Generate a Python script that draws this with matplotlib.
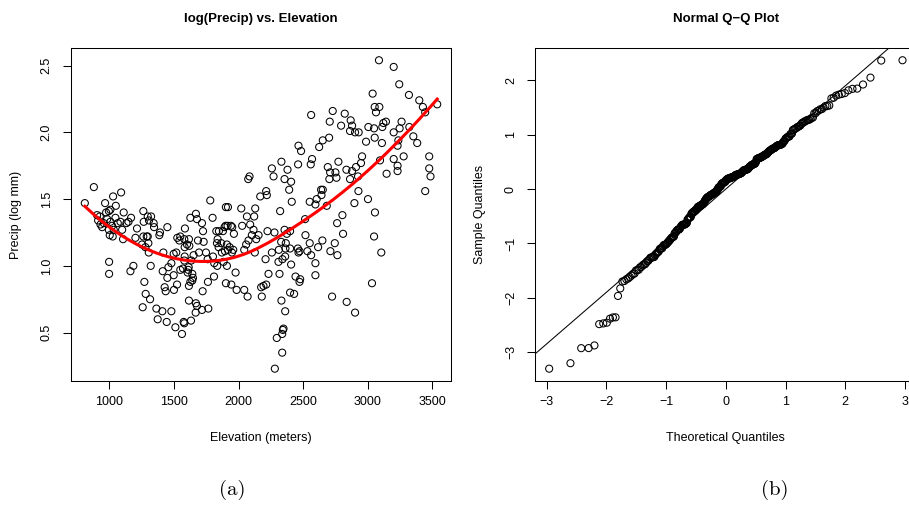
from statistics import NormalDist
import matplotlib
matplotlib.use("Agg")
import matplotlib.pyplot as plt
import numpy as np

plt.rcParams['font.family'] = ['Liberation Sans', 'DejaVu Sans']

# station elevation (m) and log10 precipitation
elevation = [
    809, 879, 966, 1028, 1090, 1049, 904, 925, 912, 930, 943, 956, 974, 995, 1007,
    982, 1007, 1020, 995, 1033, 1002, 1025, 1046, 1064, 1085, 1098, 1105, 1110, 1131, 1147,
    1167, 997, 997, 1162, 1185, 1262, 1265, 1296, 1322, 1342, 1345, 1306, 1262, 1288, 1296,
    1252, 1301, 1304, 1278, 1391, 1386, 1448, 1319, 1270, 1280, 1314, 1257, 1363, 1409, 1479,
    1373, 1443, 1510, 1574, 1579, 1631, 1561, 1417, 1412, 1456, 1448, 1497, 1523, 1499, 1435,
    1427, 1479, 1497, 1517, 1525, 1548, 1541, 1579, 1584, 1615, 1600, 1618, 1582, 1548, 1569,
    1579, 1613, 1610, 1605, 1641, 1646, 1641, 1626, 1615, 1633, 1651, 1693, 1685, 1729, 1747,
    1760, 1626, 1669, 1677, 1716, 1724, 1780, 1798, 1615, 1669, 1677, 1667, 1716, 1765, 1721,
    1762, 1809, 1801, 1811, 1834, 1832, 1827, 1847, 1837, 1865, 1878, 1899, 1891, 1914, 1940,
    1950, 1963, 1845, 1870, 1894, 1909, 1917, 1930, 1948, 1958, 1883, 1909, 1901, 1917, 1901,
    1943, 1976, 1984, 1213, 1201, 1582,
    3086, 3200, 3243, 3037, 3318, 3398, 3426, 3444, 3537, 3053, 3089, 3063, 2561, 2728, 2821,
    2705, 2793, 2867, 2878, 2862, 2901, 2929, 3004, 3048, 3120, 3140, 3112, 3261, 3200, 3246,
    3321, 3053, 2986, 3109, 3236, 3352, 3382, 3230, 2463, 2483, 2623, 2651, 2700, 2568, 2558,
    2460, 2331, 2257, 2270, 2378, 2355, 2406, 2084, 2074, 2690, 2708, 2702, 2757, 2749, 2772,
    2834, 2878, 2908, 2955, 2947, 2862, 2924, 3094, 3200, 3277, 3230, 3230, 3145, 3475, 3475,
    3485, 3444, 2391, 2213, 2218, 2167, 2411, 2638, 2651, 2641, 2604, 2550, 2594, 2682, 2927,
    2896, 3001, 3055, 2803, 2762, 2808, 2514, 2321, 2128, 2120, 2064, 2020, 2089, 2027, 2115,
    2102, 2154, 2076, 2058, 2043, 2125, 2136, 2223, 2277, 2355, 2373, 2398, 2329, 2365, 2398,
    2362, 2311, 2257, 2208, 2308, 2339, 2360, 2458, 2471, 2463, 2517, 2550, 2532, 2561, 2594,
    2615, 2648, 2710, 2744, 2764, 3048, 3104, 2406, 2231, 2316, 2440, 2476, 2471, 2594, 2192,
    2174, 2213, 2043, 2069, 2179, 2398, 2429, 2331, 2360, 2723, 2836, 2901, 3032, 2347, 2342,
    2337, 2295, 2337, 2280,
]
log_precip = [
    1.47, 1.59, 1.47, 1.52, 1.55, 1.45, 1.38, 1.37, 1.34, 1.31, 1.29, 1.32, 1.40, 1.41, 1.42,
    1.35, 1.33, 1.30, 1.27, 1.27, 1.23, 1.22, 1.36, 1.32, 1.33, 1.27, 1.20, 1.40, 1.32, 1.33,
    1.36, 1.03, 0.94, 0.96, 1.00, 1.41, 1.33, 1.37, 1.37, 1.32, 1.29, 1.34, 1.22, 1.22, 1.22,
    1.16, 1.17, 1.10, 1.14, 1.25, 1.23, 1.29, 1.00, 0.88, 0.79, 0.75, 0.69, 0.68, 0.66, 0.66,
    0.60, 0.58, 0.54, 0.58, 0.57, 0.59, 0.49, 1.10, 0.96, 0.99, 0.91, 0.93, 0.86, 0.82, 0.81,
    0.84, 1.02, 1.09, 1.10, 1.21, 1.22, 1.19, 1.20, 1.28, 1.20, 1.16, 1.15, 1.14, 0.97, 0.98,
    1.04, 0.99, 0.97, 0.95, 0.94, 0.91, 0.89, 0.88, 0.85, 1.04, 1.08, 1.10, 1.19, 1.18, 1.10,
    1.05, 1.36, 1.39, 1.35, 1.32, 1.26, 1.49, 1.36, 0.74, 0.72, 0.70, 0.65, 0.67, 0.68, 0.81,
    0.88, 0.92, 1.07, 1.02, 1.00, 1.17, 1.26, 1.26, 1.20, 1.17, 1.26, 1.30, 1.29, 1.30, 1.30,
    1.29, 1.24, 1.14, 1.10, 1.11, 1.16, 1.12, 1.14, 1.10, 1.12, 1.03, 1.00, 1.44, 1.44, 0.87,
    0.86, 0.95, 0.82, 1.28, 1.21, 1.07,
    2.54, 2.49, 2.36, 2.29, 2.28, 2.24, 2.19, 2.15, 2.21, 2.19, 2.19, 2.15, 2.13, 2.16, 2.14,
    2.08, 2.05, 2.09, 2.05, 2.01, 2.00, 2.00, 2.04, 2.03, 2.07, 2.08, 2.04, 2.08, 2.00, 2.03,
    2.04, 1.96, 1.93, 1.92, 1.94, 1.97, 1.92, 1.90, 1.90, 1.86, 1.89, 1.94, 1.96, 1.80, 1.76,
    1.76, 1.78, 1.73, 1.67, 1.72, 1.65, 1.63, 1.67, 1.65, 1.74, 1.70, 1.65, 1.66, 1.70, 1.78,
    1.72, 1.71, 1.74, 1.82, 1.77, 1.65, 1.67, 1.79, 1.80, 1.82, 1.75, 1.71, 1.69, 1.82, 1.73,
    1.67, 1.56, 1.57, 1.56, 1.53, 1.52, 1.48, 1.57, 1.57, 1.53, 1.50, 1.48, 1.46, 1.45, 1.56,
    1.47, 1.50, 1.40, 1.38, 1.32, 1.24, 1.35, 1.41, 1.43, 1.37, 1.37, 1.43, 1.31, 1.30, 1.27,
    1.23, 1.23, 1.19, 1.16, 1.12, 1.10, 1.20, 1.26, 1.25, 1.27, 1.24, 1.26, 1.18, 1.17, 1.13,
    1.13, 1.12, 1.10, 1.05, 1.03, 1.05, 1.07, 1.13, 1.11, 1.10, 1.23, 1.17, 1.11, 1.08, 1.02,
    1.14, 1.19, 1.11, 1.17, 1.08, 1.22, 1.10, 1.01, 0.94, 0.94, 0.92, 0.90, 0.88, 0.93, 0.85,
    0.84, 0.86, 0.82, 0.77, 0.77, 0.80, 0.79, 0.74, 0.66, 0.77, 0.73, 0.65, 0.87, 0.53, 0.52,
    0.49, 0.46, 0.35, 0.23,
]

x_ticks_a = [1000, 1500, 2000, 2500, 3000, 3500]
y_ticks_a = [0.5, 1.0, 1.5, 2.0, 2.5]
x_ticks_b = [-3, -2, -1, 0, 1, 2, 3]
y_ticks_b = [-3, -2, -1, 0, 1, 2]


def loess(x, y, x_eval, span=0.75):
    # local quadratic fit with tricube weights
    n = len(x)
    q = min(int(np.floor(span * n)), n)
    xk = x / 1000.0
    out = np.empty(len(x_eval))
    for i, x0 in enumerate(x_eval / 1000.0):
        d = np.abs(xk - x0)
        h = np.sort(d)[q - 1] * max(span, 1.0) * 1.0001
        u = np.clip(d / h, 0, 1)
        w = (1 - u ** 3) ** 3
        X = np.column_stack([np.ones(n), xk - x0, (xk - x0) ** 2])
        sw = np.sqrt(w)
        beta = np.linalg.lstsq(X * sw[:, None], y * sw, rcond=None)[0]
        out[i] = beta[0]
    return out


x = np.array(elevation, dtype=float)
y = np.array(log_precip, dtype=float)

xs = np.sort(x)
ys = loess(x, y, xs, span=1.0)

# standardised residuals of a cubic trend for the Q-Q plot
coef = np.polyfit(x, y, 3)
resid = y - np.polyval(coef, x)
std_resid = np.sort(resid / resid.std(ddof=4))
n = len(std_resid)
nd = NormalDist()
probs = (np.arange(1, n + 1) - 0.5) / n
theo = np.array([nd.inv_cdf(p) for p in probs])

# qqline through the quartiles
q1, q3 = np.percentile(std_resid, [25, 75])
z1, z3 = nd.inv_cdf(0.25), nd.inv_cdf(0.75)
slope = (q3 - q1) / (z3 - z1)
intercept = q1 - slope * z1


def r_limits(v):
    lo, hi = np.min(v), np.max(v)
    pad = 0.04 * (hi - lo)
    return lo - pad, hi + pad


def r_style(ax):
    for s in ax.spines.values():
        s.set_linewidth(0.75)
    ax.tick_params(axis='both', direction='out', length=6, width=0.75, labelsize=9)
    ax.tick_params(axis='x', pad=4.5)
    ax.tick_params(axis='y', pad=7, labelrotation=90)
    for lbl in ax.get_yticklabels():
        lbl.set_va('center')


fig = plt.figure(figsize=(9.09, 5.07), dpi=100)
ax1 = fig.add_axes([0.0778, 0.2485, 0.4187, 0.657])
ax2 = fig.add_axes([0.5886, 0.2485, 0.4198, 0.657])

ax1.scatter(x, y, s=26, facecolors='none', edgecolors='black', linewidths=0.75)
ax1.plot(xs, ys, color='red', lw=2.2)
ax1.set_xlim(*r_limits(x))
ax1.set_ylim(*r_limits(y))
ax1.set_xticks(x_ticks_a)
ax1.set_yticks(y_ticks_a)
ax1.set_yticklabels([f"{t:.1f}" for t in y_ticks_a])
r_style(ax1)
ax1.set_title("log(Precip) vs. Elevation", fontsize=9.5, fontweight='bold', pad=18.5)
ax1.set_xlabel("Elevation (meters)", fontsize=9)
ax1.set_ylabel("Precip (log mm)", fontsize=9)
ax1.xaxis.set_label_coords(0.5, -0.153)
ax1.yaxis.set_label_coords(-0.128, 0.5)

ax2.scatter(theo, std_resid, s=26, facecolors='none', edgecolors='black', linewidths=0.75)
ax2.axline((0, intercept), slope=slope, color='black', lw=0.75)
ax2.set_xlim(*r_limits(theo))
ax2.set_ylim(*r_limits(std_resid))
ax2.set_xticks(x_ticks_b)
ax2.set_yticks(y_ticks_b)
r_style(ax2)
ax2.set_title("Normal Q\u2212Q Plot", fontsize=9.5, fontweight='bold', pad=18.5)
ax2.set_xlabel("Theoretical Quantiles", fontsize=9)
ax2.set_ylabel("Sample Quantiles", fontsize=9)
ax2.xaxis.set_label_coords(0.5, -0.153)
ax2.yaxis.set_label_coords(-0.128, 0.5)

fig.text(232 / 909, 1 - 490 / 507, "(a)", family='cmr10', fontsize=15, ha='center', va='center')
fig.text(775 / 909, 1 - 490 / 507, "(b)", family='cmr10', fontsize=15, ha='center', va='center')

fig.savefig("out.png", dpi=100)
